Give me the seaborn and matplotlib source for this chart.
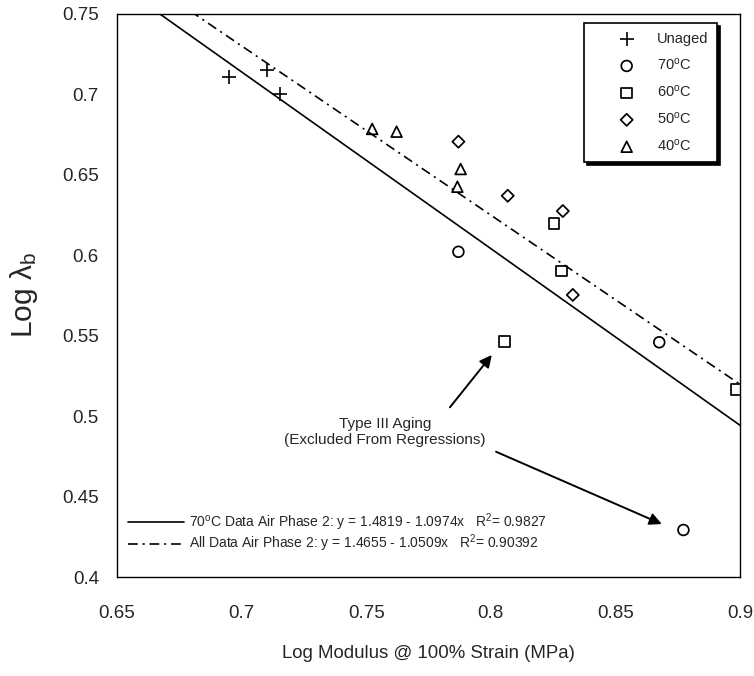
import numpy as np
import pandas as pd
import matplotlib
matplotlib.use("Agg")
import matplotlib.pyplot as plt
import seaborn as sns
from matplotlib.lines import Line2D

# ---- data ----
unaged_x = [0.6951, 0.7103, 0.7154]
unaged_y = [0.7107, 0.7149, 0.7000]
c70_x = [0.7870, 0.8676, 0.8773]
c70_y = [0.6020, 0.5458, 0.4292]
c60_x = [0.8254, 0.8284, 0.8054, 0.8987]
c60_y = [0.6197, 0.5901, 0.5462, 0.5166]
c50_x = [0.7870, 0.8068, 0.8289, 0.8329]
c50_y = [0.6704, 0.6368, 0.6273, 0.5752]
c40_x = [0.7524, 0.7622, 0.7879, 0.7866]
c40_y = [0.6783, 0.6766, 0.6534, 0.6424]

group_labels = ["Unaged", "70$^{\\rm o}$C", "60$^{\\rm o}$C", "50$^{\\rm o}$C", "40$^{\\rm o}$C"]

fit_intercepts = [1.4819, 1.4655]
fit_slopes = [-1.0974, -1.0509]
fit_labels = [
    "70$^{\\rm o}$C Data Air Phase 2: y = 1.4819 - 1.0974x   R$^2$= 0.9827",
    "All Data Air Phase 2: y = 1.4655 - 1.0509x   R$^2$= 0.90392",
]
x_range = [0.65, 0.90]

xticks = [0.65, 0.70, 0.75, 0.80, 0.85, 0.90]
xtick_labels = ["0.65", "0.7", "0.75", "0.8", "0.85", "0.9"]
yticks = [0.40, 0.45, 0.50, 0.55, 0.60, 0.65, 0.70, 0.75]
ytick_labels = ["0.4", "0.45", "0.5", "0.55", "0.6", "0.65", "0.7", "0.75"]

annot_text = "Type III Aging\n(Excluded From Regressions)"
annot_pos = (0.7575, 0.4900)
arrow_tails = [(0.7836, 0.5054), (0.8021, 0.4778)]
arrow_heads = [(0.8004, 0.5379), (0.8686, 0.4329)]

# ---- style ----
sns.set_style("white")
plt.rcParams["font.family"] = ["Liberation Sans", "DejaVu Sans"]
plt.rcParams["mathtext.fontset"] = "custom"
plt.rcParams["mathtext.rm"] = "Liberation Sans"
plt.rcParams["mathtext.it"] = "Liberation Sans:italic"
plt.rcParams["lines.scale_dashes"] = False

groups_x = [unaged_x, c70_x, c60_x, c50_x, c40_x]
groups_y = [unaged_y, c70_y, c60_y, c50_y, c40_y]
frames = []
for lab, gx, gy in zip(group_labels, groups_x, groups_y):
    frames.append(pd.DataFrame({"x": gx, "y": gy, "group": lab}))
df = pd.concat(frames, ignore_index=True)

markers = ["+", "o", "s", "D", "^"]
sizes = [110, 60, 58, 38, 60]

fig = plt.figure(figsize=(7.54, 6.76), dpi=100)
ax = fig.add_axes([117 / 754, 1 - 577 / 676, 623 / 754, 563.5 / 676])

for lab, m, s in zip(group_labels, markers, sizes):
    sub = df[df["group"] == lab]
    if m == "+":
        sns.scatterplot(data=sub, x="x", y="y", marker=m, s=s, color="black",
                        linewidth=1.2, ax=ax, label=lab, zorder=3)
    else:
        sns.scatterplot(data=sub, x="x", y="y", marker=m, s=s, facecolor="none",
                        edgecolor="black", linewidth=1.25, ax=ax, label=lab, zorder=3)

line_styles = ["-", (0, (7, 3.5, 1.5, 3.5))]
for b0, b1, ls in zip(fit_intercepts, fit_slopes, line_styles):
    xs = np.array(x_range)
    ys = b0 + b1 * xs
    sns.lineplot(x=xs, y=ys, color="black", linewidth=1.2, linestyle=ls, ax=ax,
                 legend=False, zorder=2)

ax.set_xlim(0.65, 0.90)
ax.set_ylim(0.40, 0.75)
ax.set_xticks(xticks)
ax.set_xticklabels(xtick_labels)
ax.set_yticks(yticks)
ax.set_yticklabels(ytick_labels)
ax.tick_params(axis="both", length=0, labelsize=13.5)
ax.tick_params(axis="x", pad=20)
ax.tick_params(axis="y", pad=13)
for sp in ax.spines.values():
    sp.set_visible(True)
    sp.set_color("black")
    sp.set_linewidth(1.0)

ax.set_xlabel("Log Modulus @ 100% Strain (MPa)", fontsize=13.4, labelpad=17)
ax.set_ylabel("Log λ$_{\\rm b}$", fontsize=21.5, labelpad=16)

# scatter legend (top-right)
handles, labels = ax.get_legend_handles_labels()
leg1 = ax.legend(handles, labels, loc="upper right", bbox_to_anchor=(0.963, 0.983),
                 borderaxespad=0, fontsize=10.5, frameon=True, fancybox=False,
                 edgecolor="black", framealpha=1, handletextpad=-0.27,
                 labelspacing=0.75, borderpad=0.6, handlelength=4.66,
                 shadow={"color": "black", "alpha": 1})
leg1.get_frame().set_linewidth(1.2)
ax.add_artist(leg1)

# regression-line legend (bottom-left)
line_handles = [Line2D([0], [0], color="black", lw=1.2, linestyle=ls) for ls in line_styles]
leg2 = ax.legend(line_handles, fit_labels, loc="lower left", bbox_to_anchor=(0.0177, 0.040),
                 borderaxespad=0, borderpad=0, fontsize=10, frameon=False, handlelength=4.0,
                 handletextpad=0.36, labelspacing=0.0)

ax.text(annot_pos[0], annot_pos[1], annot_text, ha="center", va="center", fontsize=11,
        linespacing=1.25)
for tail, head in zip(arrow_tails, arrow_heads):
    ax.annotate("", xy=head, xytext=tail,
                arrowprops=dict(arrowstyle="-|>", color="black", lw=1.4,
                                mutation_scale=18, shrinkA=0, shrinkB=0))

fig.savefig("out.png", dpi=100)
